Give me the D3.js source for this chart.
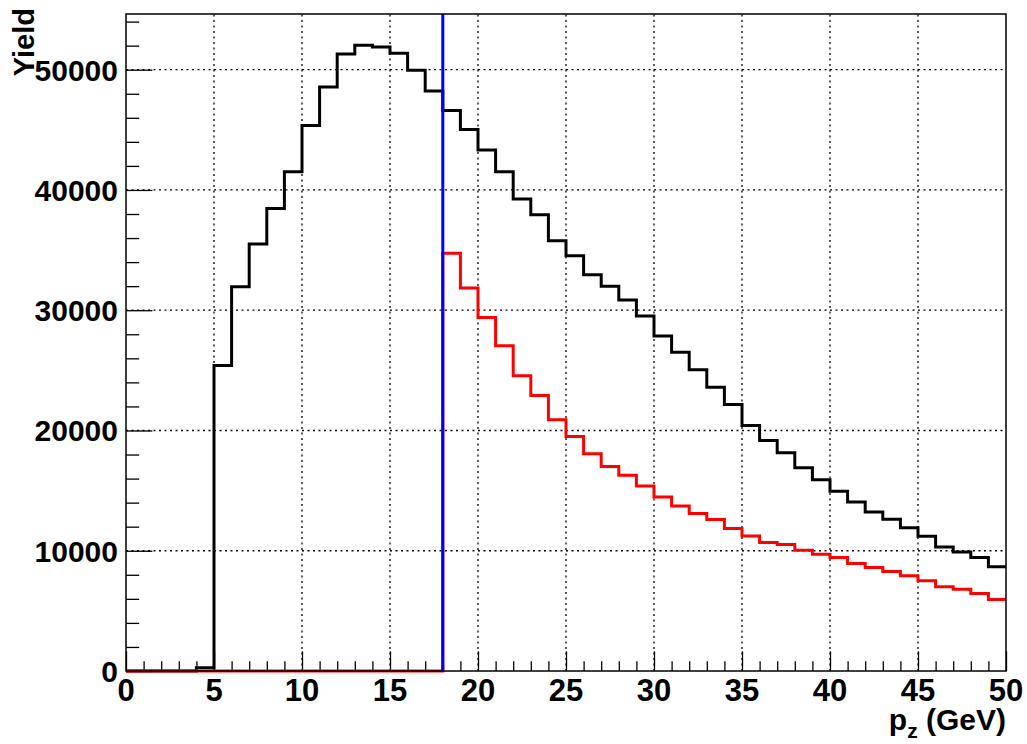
<!DOCTYPE html>
<html>
<head>
<meta charset="utf-8">
<script src="https://cdn.jsdelivr.net/npm/d3@7"></script>
<style>
  html, body { margin: 0; padding: 0; background: #fff; }
  svg { display: block; }
  text { font-family: "Liberation Sans", Arial, Helvetica, sans-serif; font-weight: bold; }
</style>
</head>
<body>
<svg id="chart" width="1027" height="744"></svg>
<script>
// ---- data ----
const binEdgesStart = 0;
const binWidth = 1;
const allYield = [0,0,0,0,280,25400,31950,35500,38450,41520,45370,48570,51310,52030,51890,51370,49960,48220,
  46600,45030,43320,41520,39250,37930,35770,34520,32950,32000,30840,29520,27860,26500,25060,23600,22160,20420,
  19170,18150,16900,15910,14940,14050,13220,12610,11920,11200,10320,9900,9430,8660];
const cutYield = [0,0,0,0,0,0,0,0,0,0,0,0,0,0,0,0,0,0,
  34740,31840,29400,27050,24560,22900,20890,19500,18070,17010,16270,15380,14470,13720,13090,12590,11840,11230,
  10680,10510,10040,9710,9430,8940,8600,8270,7910,7500,7000,6800,6450,5950];
const cutValue = 18;
const xTicks = [0,5,10,15,20,25,30,35,40,45,50];
const yTicks = [0,10000,20000,30000,40000,50000];
const xTitle = "p";
const xTitleSub = "z";
const xTitleRest = " (GeV)";
const yTitle = "Yield";

// ---- layout ----
const W = 1027, H = 744;
const frame = { left: 126, top: 14, right: 1006, bottom: 671 };
const svg = d3.select("#chart");

const x = d3.scaleLinear().domain([0, 50]).range([frame.left, frame.right]);
const yMax = d3.max(allYield) * 1.05;
const y = d3.scaleLinear().domain([0, yMax]).range([frame.bottom, frame.top]);

const fw = frame.right - frame.left, fh = frame.bottom - frame.top;

// grid
const grid = svg.append("g").attr("stroke", "#000").attr("stroke-width", 1.3)
  .attr("stroke-dasharray", "2,3.5");
xTicks.filter(d => d > 0 && d < 50).forEach(d => {
  grid.append("line").attr("x1", x(d)).attr("x2", x(d)).attr("y1", frame.bottom).attr("y2", frame.top);
});
yTicks.filter(d => d > 0).forEach(d => {
  grid.append("line").attr("x1", frame.left).attr("x2", frame.right).attr("y1", y(d)).attr("y2", y(d));
});

// axes ticks
const xAxis = d3.axisBottom(x).tickValues(d3.range(0, 51, 1)).tickFormat("").tickSizeOuter(0);
const gx = svg.append("g").attr("transform", `translate(0,${frame.bottom})`).call(xAxis);
gx.selectAll(".tick line").attr("y2", d => (d % 5 === 0 ? -fh * 0.03 : -fh * 0.015))
  .attr("stroke", "#000").attr("stroke-width", 1.3);
gx.select(".domain").remove();

const yAxis = d3.axisLeft(y).tickValues(d3.range(0, yMax, 2000)).tickFormat("").tickSizeOuter(0);
const gy = svg.append("g").attr("transform", `translate(${frame.left},0)`).call(yAxis);
gy.selectAll(".tick line").attr("x2", d => (d % 10000 === 0 ? fw * 0.03 : fw * 0.015))
  .attr("stroke", "#000").attr("stroke-width", 1.3);
gy.select(".domain").remove();

// tick labels
svg.append("g").selectAll("text").data(xTicks).join("text")
  .attr("x", d => x(d)).attr("y", frame.bottom + 30)
  .attr("text-anchor", "middle").attr("font-size", 31).text(d => d);
svg.append("g").selectAll("text").data(yTicks).join("text")
  .attr("x", frame.left - 8).attr("y", d => y(d) + 11)
  .attr("text-anchor", "end").attr("font-size", 30).text(d => d);

// titles
const xt = svg.append("text").attr("x", frame.right).attr("y", H - 14)
  .attr("text-anchor", "end").attr("font-size", 30);
xt.append("tspan").text(xTitle);
xt.append("tspan").attr("font-size", 21).attr("dy", 8).text(xTitleSub);
xt.append("tspan").attr("dy", -8).text(xTitleRest);

svg.append("text").attr("transform", `translate(34,${frame.top - 6}) rotate(-90)`)
  .attr("text-anchor", "end").attr("font-size", 29).text(yTitle);

// histograms
function stepPoints(vals) {
  const pts = vals.map((v, i) => [binEdgesStart + i * binWidth, v]);
  pts.push([binEdgesStart + vals.length * binWidth, vals[vals.length - 1]]);
  return pts;
}
const line = d3.line().x(d => x(d[0])).y(d => y(d[1])).curve(d3.curveStepAfter);

svg.append("path").attr("d", line(stepPoints(allYield)))
  .attr("fill", "none").attr("stroke", "#000").attr("stroke-width", 3);
svg.append("path").attr("d", line(stepPoints(cutYield)))
  .attr("fill", "none").attr("stroke", "#ff0000").attr("stroke-width", 3);

// cut line
svg.append("line").attr("x1", x(cutValue)).attr("x2", x(cutValue))
  .attr("y1", y(0)).attr("y2", y(yMax))
  .attr("stroke", "#0000ff").attr("stroke-width", 3);

// frame
svg.append("rect").attr("x", frame.left).attr("y", frame.top)
  .attr("width", fw).attr("height", fh)
  .attr("fill", "none").attr("stroke", "#000").attr("stroke-width", 1.5);
</script>
</body>
</html>
